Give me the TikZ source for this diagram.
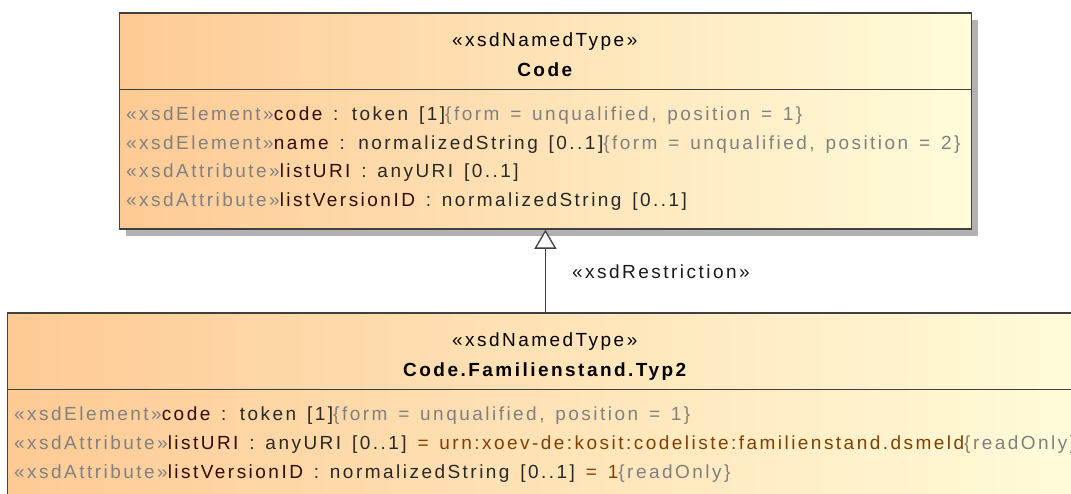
\documentclass[tikz,border=0pt]{standalone}
\usepackage{fontspec}
\setmainfont{Liberation Sans}[LetterSpace=13, WordSpace=1.4]
\usetikzlibrary{shadows,arrows.meta}
\definecolor{stgray}{RGB}{128,128,128}
\definecolor{namecol}{RGB}{50,10,10}
\definecolor{typecol}{RGB}{40,40,40}
\definecolor{defcol}{RGB}{128,64,0}
\definecolor{bordercol}{RGB}{64,64,64}
\definecolor{shadowgray}{RGB}{178,178,178}
\definecolor{gradleft}{RGB}{254,202,148}
\definecolor{gradright}{RGB}{255,252,218}
\newcommand{\stt}[1]{\textcolor{stgray}{#1}}
\newcommand{\nm}[1]{\textcolor{namecol}{#1}}
\newcommand{\tp}[1]{\textcolor{typecol}{#1}}
\newcommand{\dv}[1]{\textcolor{defcol}{#1}}
\tikzset{
  umlbox/.style={draw=bordercol, line width=1.3pt, left color=gradleft, right color=gradright, inner sep=0pt, anchor=north west},
  shadowed/.style={drop shadow={shadow xshift=6.5pt, shadow yshift=-6.5pt, fill=shadowgray, opacity=1}},
  sep/.style={draw=bordercol, line width=1.3pt},
  txt/.style={inner sep=0pt, anchor=base west, font=\fontsize{19}{22}\selectfont},
  ctxt/.style={inner sep=0pt, anchor=base, font=\fontsize{19}{22}\selectfont},
  btxt/.style={inner sep=0pt, anchor=base, font=\fontsize{19}{22}\selectfont\bfseries},
  gen/.style={draw=bordercol, line width=1.3pt, -{Triangle[open, length=19pt, width=22pt, fill=white]}}
}
\begin{document}
\begin{tikzpicture}[x=1pt, y=-1pt]
\useasboundingbox (0,0) rectangle (1071,494);
\clip (0,0) rectangle (1071,494);
% top class
\node[umlbox, shadowed, minimum width=852.5pt, minimum height=216pt] (code) at (118.5,12.5) {};
\draw[sep] ([yshift=-76.8pt]code.north west) -- ([yshift=-76.8pt]code.north east);
\node[ctxt] (codest) at (544.75,46.5) {«xsdNamedType»};
\node[btxt] (codename) at (544.75,77) {Code};
\node[txt] (ca1) at (126,121) {\stt{«xsdElement»}\nm{code}\ \tp{: token [1]}\stt{\{form = unqualified, position = 1\}}};
\node[txt] (ca2) at (126,149.5) {\stt{«xsdElement»}\nm{name}\ \tp{: normalizedString [0..1]}\stt{\{form = unqualified, position = 2\}}};
\node[txt] (ca3) at (126,178) {\stt{«xsdAttribute»}\nm{listURI}\ \tp{: anyURI [0..1]}};
\node[txt] (ca4) at (126,206.5) {\stt{«xsdAttribute»}\nm{listVersionID}\ \tp{: normalizedString [0..1]}};
% bottom class
\node[umlbox, minimum width=1083.3pt, minimum height=200pt] (fam) at (6.7,312.5) {};
\draw[sep] ([yshift=-77pt]fam.north west) -- ([yshift=-77pt]fam.north east);
\node[ctxt] (famst) at (544.75,346.5) {«xsdNamedType»};
\node[btxt] (famname) at (544.75,376) {Code.Familienstand.Typ2};
\node[txt] (fa1) at (14,420.5) {\stt{«xsdElement»}\nm{code}\ \tp{: token [1]}\stt{\{form = unqualified, position = 1\}}};
\node[txt] (fa2) at (14,449.3) {\stt{«xsdAttribute»}\nm{listURI}\ \tp{: anyURI [0..1]}\ \dv{= urn:xoev-de:kosit:codeliste:familienstand.dsmeld}\stt{\{readOnly\}}};
\node[txt] (fa3) at (14,478) {\stt{«xsdAttribute»}\nm{listVersionID}\ \tp{: normalizedString [0..1]}\ \dv{= 1}\stt{\{readOnly\}}};
% generalization
\draw[gen] (fam.north -| code.south) -- (code.south);
\node[txt, text=black!90] (rl) at (572,278.3) {«xsdRestriction»};
\end{tikzpicture}
\end{document}
